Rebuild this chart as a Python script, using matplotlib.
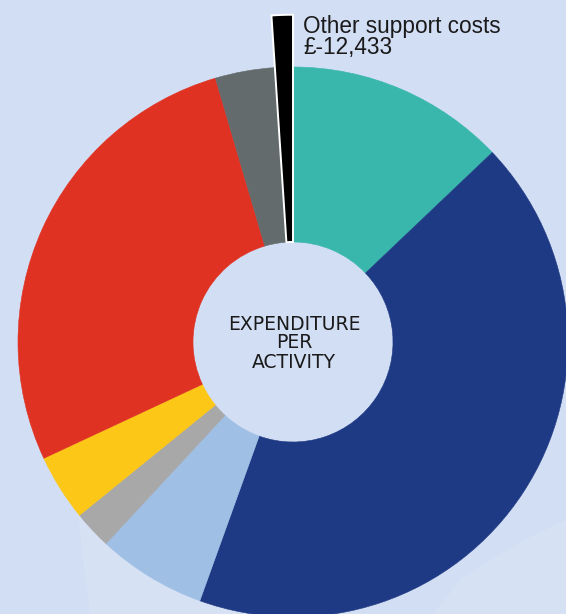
import matplotlib
matplotlib.use("Agg")
import matplotlib.pyplot as plt
from matplotlib.patches import Polygon

# Expenditure per activity, clockwise from 12 o'clock (share of total, %)
activities = [
    "Activity A", "Activity B", "Activity C", "Activity D",
    "Activity E", "Activity F", "Activity G", "Other support costs",
]
shares = [12.9, 42.6, 6.4, 2.25, 3.9, 27.4, 3.5, 1.05]
colors = ["#3AB7AC", "#1F3A84", "#9FBFE5", "#A8A8A8",
          "#FDC718", "#E03222", "#636B6C", "#000000"]
callout_label = "Other support costs"
callout_value = "£-12,433"
center_text = "EXPENDITURE\nPER\nACTIVITY"

BG = "#D2DEF4"
BG_LIGHT = "#D7E1F4"

W, H = 566, 614
cx, cy, R = 293, 342, 275  # pixel centre and outer radius


def px(x, y):
    """Pixel position -> data coords (1 unit = outer radius)."""
    return (x - cx) / R, (cy - y) / R


fig = plt.figure(figsize=(W / 100, H / 100), dpi=100, facecolor=BG)
ax = fig.add_axes([0, 0, 1, 1])
ax.set_facecolor(BG)

# faint lighter shapes in the background
left_shape = [px(76, 500), px(90, 614), px(300, 614), px(300, 500)]
right_shape = [px(433, 614), px(460, 580), px(490, 560), px(530, 537),
               px(566, 520), px(566, 614)]
for pts in (left_shape, right_shape):
    ax.add_patch(Polygon(pts, closed=True, facecolor=BG_LIGHT,
                         edgecolor="none", zorder=0))

inner = 100 / R
wedges, _ = ax.pie(
    shares, colors=colors, startangle=90, counterclock=False,
    radius=1.0, wedgeprops=dict(width=1 - inner, linewidth=0.4),
)
for w in wedges:
    w.set_edgecolor(w.get_facecolor())
    w.set_zorder(2)

# negative "other support costs" slice sticks out beyond the ring
black = wedges[-1]
black.set_radius(1.19)
black.set_width(1.19 - inner)
black.set_edgecolor("white")
black.set_linewidth(1.4)
black.set_zorder(3)

tx, ty = px(303, 15)
ax.text(tx, ty, f"{callout_label}\n{callout_value}", ha="left", va="top",
        fontsize=16.3, family="Liberation Sans", color="#1a1a1a",
        linespacing=0.88, zorder=4)

ax.text(*px(294, 343), center_text, ha="center", va="center",
        fontsize=13.5, family="DejaVu Sans", color="#1a1a1a",
        linespacing=1.0, zorder=4)

ax.set_xlim(px(0, 0)[0], px(W, 0)[0])
ax.set_ylim(px(0, H)[1], px(0, 0)[1])
ax.set_aspect("auto")
ax.axis("off")

fig.savefig("out.png", dpi=100, facecolor=BG)
